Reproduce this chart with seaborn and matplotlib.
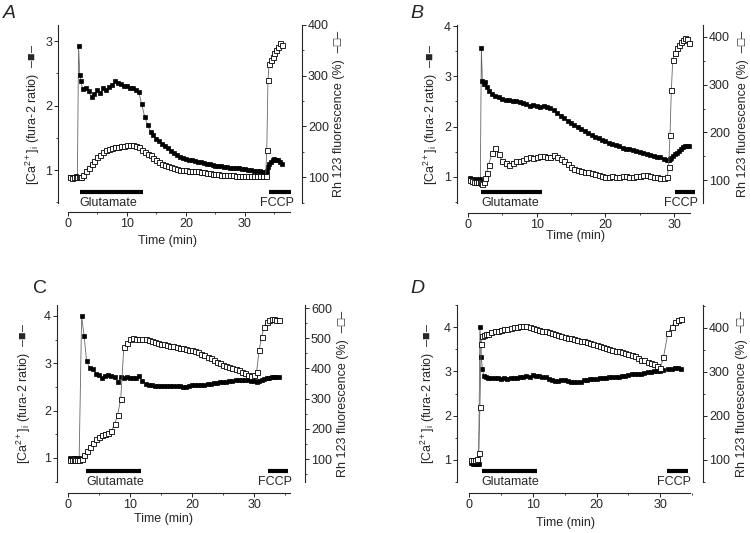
import numpy as np
import pandas as pd
import matplotlib
matplotlib.use("Agg")
import matplotlib.pyplot as plt
import matplotlib.transforms as mtransforms
from matplotlib.ticker import AutoMinorLocator
import seaborn as sns

sns.set_style("ticks")
plt.rcParams['font.family'] = ['Liberation Sans', 'DejaVu Sans']
plt.rcParams['mathtext.fontset'] = 'custom'
plt.rcParams['mathtext.rm'] = 'Liberation Sans'
plt.rcParams['mathtext.it'] = 'Liberation Sans:italic'

# ---------------- data (time in min, Ca = fura-2 ratio, Rh = % fluorescence) ----------------
# panel A
t_a = np.r_[[0.4, 0.7, 1.0, 1.3, 1.6, 1.8, 2.0, 2.2],
            np.arange(2.5, 33.6, 0.5),
            [33.7, 33.9, 34.1, 34.4, 34.7, 35.0, 35.3, 35.6, 35.9, 36.2]]
ca_a = [0.90, 0.89, 0.90, 0.91, 0.90, 2.92, 2.48, 2.38,
        2.25, 2.28, 2.22, 2.13, 2.18, 2.24, 2.20, 2.27, 2.24, 2.29,
        2.32, 2.38, 2.35, 2.34, 2.30, 2.30, 2.27, 2.27, 2.24, 2.21,
        2.02, 1.83, 1.70, 1.59, 1.54, 1.49, 1.45, 1.41, 1.37, 1.34,
        1.30, 1.26, 1.23, 1.21, 1.19, 1.17, 1.16, 1.15, 1.14, 1.13,
        1.12, 1.11, 1.10, 1.09, 1.08, 1.07, 1.07, 1.06, 1.05, 1.05,
        1.04, 1.04, 1.03, 1.03, 1.02, 1.01, 1.00, 1.00, 0.99, 0.98,
        0.98, 0.97, 0.97,
        0.99, 1.05, 1.10, 1.13, 1.15, 1.17, 1.16, 1.15, 1.13, 1.10]
rh_a = [100, 99, 100, 101, 100, 100, 100, 101,
        104, 113, 119, 126, 132, 139, 144, 149, 153, 156,
        158, 159, 160, 161, 162, 163, 163, 163, 162, 159,
        154, 149, 146, 143, 138, 133, 129, 126, 124, 122,
        120, 118, 116, 115, 114, 114, 113, 113, 112, 112,
        111, 110, 109, 108, 107, 106, 106, 105, 105, 104,
        104, 104, 103, 103, 103, 103, 102, 102, 102, 102,
        102, 102, 102,
        153, 291, 324, 331, 337, 344, 350, 356, 364, 360]

# panel B
t_b = np.r_[[0.3, 0.6, 0.9, 1.2, 1.5, 1.8, 1.95, 2.1, 2.3, 2.5, 2.7],
            np.arange(3.0, 29.1, 0.5),
            [29.2, 29.4, 29.6, 29.8, 30.1, 30.4, 30.7, 31.0, 31.3, 31.6, 31.9, 32.2]]
ca_b = [0.97, 0.95, 0.94, 0.95, 0.93, 0.95, 3.57, 2.90, 2.85, 2.88, 2.78,
        2.70, 2.65, 2.60, 2.58, 2.55, 2.52, 2.53, 2.50, 2.51, 2.48,
        2.47, 2.44, 2.41, 2.43, 2.40, 2.38, 2.40, 2.39, 2.37, 2.33,
        2.28, 2.22, 2.17, 2.12, 2.07, 2.03, 1.99, 1.95, 1.91, 1.87,
        1.84, 1.80, 1.77, 1.74, 1.71, 1.68, 1.66, 1.63, 1.61, 1.58,
        1.56, 1.55, 1.53, 1.51, 1.50, 1.48, 1.46, 1.44, 1.42, 1.40,
        1.39, 1.36, 1.34,
        1.33, 1.36, 1.38, 1.41, 1.45, 1.48, 1.52, 1.55, 1.59, 1.61, 1.62, 1.61]
rh_b = [100, 98, 96, 97, 95, 96, 93, 92, 96, 104, 114,
        132, 156, 167, 155, 139, 135, 132, 135, 139, 141,
        143, 146, 148, 147, 148, 150, 150, 148, 149, 153,
        149, 144, 139, 133, 128, 124, 121, 119, 118, 116,
        114, 112, 111, 109, 107, 106, 108, 106, 107, 108,
        108, 106, 107, 108, 108, 110, 111, 109, 107, 106,
        105, 104, 106,
        128, 195, 289, 352, 366, 377, 383, 389, 394, 398, 396, 387]

# panel C
t_c = np.r_[[0.3, 0.6, 0.9, 1.2, 1.5, 1.8, 2.2, 2.6],
            np.arange(3.0, 29.6, 0.5),
            [30.0, 30.4, 30.8, 31.2, 31.6, 32.0, 32.4, 32.8, 33.2, 33.6, 34.0]]
ca_c = [1.00, 0.98, 0.99, 1.00, 0.98, 1.00, 3.99, 3.58,
        3.04, 2.90, 2.88, 2.78, 2.75, 2.69, 2.74, 2.75, 2.73, 2.71,
        2.60, 2.71, 2.69, 2.70, 2.69, 2.68, 2.68, 2.72, 2.62, 2.57,
        2.54, 2.53, 2.52, 2.51, 2.51, 2.51, 2.51, 2.52, 2.52, 2.51,
        2.51, 2.50, 2.49, 2.52, 2.53, 2.54, 2.54, 2.54, 2.55, 2.56,
        2.57, 2.58, 2.59, 2.60, 2.61, 2.61, 2.62, 2.63, 2.64, 2.64,
        2.64, 2.65, 2.64, 2.63,
        2.62, 2.60, 2.63, 2.64, 2.66, 2.68, 2.69, 2.70, 2.71, 2.71, 2.71]
rh_c = [98, 98, 99, 97, 98, 98, 100, 112,
        126, 140, 153, 165, 172, 179, 182, 186, 193, 215,
        246, 299, 471, 484, 496, 501, 499, 498, 499, 497,
        495, 491, 488, 485, 482, 480, 477, 476, 475, 472,
        469, 467, 464, 462, 460, 457, 453, 449, 444, 439,
        433, 428, 422, 418, 413, 409, 405, 402, 398, 394,
        389, 384, 378, 376,
        378, 389, 460, 504, 537, 555, 560, 563, 563, 562, 560]

# panel D
t_d = np.r_[[0.3, 0.6, 0.9, 1.2, 1.5, 1.7, 1.9, 2.1, 2.3, 2.6],
            np.arange(3.0, 30.1, 0.5),
            [30.5, 31.2, 31.8, 32.3, 32.8, 33.3]]
ca_d = [0.93, 0.90, 0.90, 0.91, 0.90, 4.00, 3.32, 3.05, 2.90, 2.87,
        2.85, 2.86, 2.85, 2.84, 2.83, 2.84, 2.83, 2.84, 2.85, 2.86,
        2.87, 2.88, 2.89, 2.88, 2.91, 2.90, 2.89, 2.88, 2.87, 2.83,
        2.80, 2.79, 2.78, 2.80, 2.80, 2.78, 2.76, 2.75, 2.75, 2.77,
        2.80, 2.81, 2.82, 2.83, 2.83, 2.84, 2.85, 2.86, 2.87, 2.87,
        2.87, 2.88, 2.90, 2.90, 2.91, 2.93, 2.95, 2.94, 2.95, 2.97,
        2.98, 2.99, 3.00, 3.01, 3.02,
        3.03, 3.05, 3.05, 3.07, 3.08, 3.06]
rh_d = [100, 101, 100, 102, 115, 221, 364, 381, 385, 387,
        387, 390, 392, 394, 396, 397, 398, 400, 402, 403,
        404, 404, 404, 402, 400, 398, 396, 394, 392, 390,
        389, 386, 383, 381, 379, 377, 376, 375, 373, 371,
        370, 368, 366, 364, 362, 360, 357, 355, 353, 350,
        348, 347, 345, 343, 341, 339, 336, 332, 328, 326,
        323, 320, 317, 313, 309,
        333, 389, 403, 414, 418, 421]

# drug application periods (min)
glu_times = {'A': [2.0, 12.7], 'B': [1.9, 10.8], 'C': [2.9, 11.7], 'D': [2.0, 10.7]}
fccp_times = {'A': [34.1, 37.8], 'B': [30.2, 33.0], 'C': [32.3, 35.5], 'D': [31.0, 34.4]}

# ---------------- layout ----------------
panels = {
    'A': dict(t=t_a, ca=ca_a, rh=rh_a, pos=[0.0773, 0.6191, 0.3253, 0.334],
              xlim=(-1.69, 39.66), xend=37.6, ylim=(0.49, 3.25), yticks=[1, 2, 3],
              rlim=(49, 400), rticks=[100, 200, 300, 400], off=6.5,
              lx=-0.066, rx=1.127, xl=(0.45, -0.18), letter=(0.004, 0.99), italic=True),
    'B': dict(t=t_b, ca=ca_b, rh=rh_b, pos=[0.6093, 0.6191, 0.328, 0.334],
              xlim=(-1.6, 34.2), xend=32.3, ylim=(0.48, 4.02), yticks=[1, 2, 3, 4],
              rlim=(52, 425), rticks=[100, 200, 300, 400], off=7.2,
              lx=-0.069, rx=1.14, xl=(0.48, -0.15), letter=(0.547, 0.99), italic=True),
    'C': dict(t=t_c, ca=ca_c, rh=rh_c, pos=[0.076, 0.0957, 0.3307, 0.332],
              xlim=(-1.77, 38.2), xend=35.8, ylim=(0.49, 4.23), yticks=[1, 2, 3, 4],
              rlim=(24, 610), rticks=[100, 200, 300, 400, 500, 600], off=8,
              lx=-0.097, rx=1.13, xl=(0.43, -0.175), letter=(0.044, 0.475), italic=False),
    'D': dict(t=t_d, ca=ca_d, rh=rh_d, pos=[0.6093, 0.0957, 0.328, 0.332],
              xlim=(-1.9, 36.7), xend=34.7, ylim=(0.5, 4.5), yticks=[1, 2, 3, 4],
              rlim=(50, 452), rticks=[100, 200, 300, 400], off=8,
              lx=-0.081, rx=1.135, xl=(0.44, -0.198), letter=(0.547, 0.475), italic=True),
}

fs = 9
fig = plt.figure(figsize=(7.5, 5.33), dpi=100)

for name, p in panels.items():
    ax = fig.add_axes(p['pos'])
    df = pd.DataFrame({'t': p['t'], 'ca': p['ca'], 'rh': p['rh']})

    sns.lineplot(data=df, x='t', y='ca', ax=ax, color='0.4', linewidth=0.6,
                 marker='s', markersize=3.4, markerfacecolor='black',
                 markeredgecolor='black', markeredgewidth=0.5,
                 estimator=None, sort=False)
    ax2 = ax.twinx()
    sns.lineplot(data=df, x='t', y='rh', ax=ax2, color='0.4', linewidth=0.6,
                 marker='s', markersize=3.6, markerfacecolor='white',
                 markeredgecolor='black', markeredgewidth=0.6,
                 estimator=None, sort=False)

    ax.set_xlim(*p['xlim'])
    ax.set_ylim(*p['ylim'])
    ax2.set_ylim(*p['rlim'])
    ax.set_xticks([0, 10, 20, 30])
    ax.set_yticks(p['yticks'])
    ax2.set_yticks(p['rticks'])
    for a in (ax, ax2):
        a.xaxis.set_minor_locator(AutoMinorLocator(2))
        a.yaxis.set_minor_locator(AutoMinorLocator(2))
        a.tick_params(which='major', direction='out', length=2.8, width=0.7,
                      labelsize=fs, pad=1.5)
        a.tick_params(which='minor', direction='out', length=1.6, width=0.6)
        for s in a.spines.values():
            s.set_linewidth(0.8)

    ax.spines['top'].set_visible(False)
    ax.spines['right'].set_visible(False)
    ax.spines['bottom'].set_position(('outward', p['off']))
    ax.spines['bottom'].set_bounds(0, p['xend'])
    for s in ('top', 'left', 'bottom'):
        ax2.spines[s].set_visible(False)

    ax.set_xlabel('Time (min)', fontsize=fs)
    ax.xaxis.set_label_coords(*p['xl'])
    ax.set_ylabel(r'[Ca$^{\mathrm{2+}}$]$_{\mathrm{i}}$ (fura-2 ratio)  –■–', fontsize=fs)
    ax.yaxis.set_label_coords(p['lx'], 0.5)
    ax2.set_ylabel('Rh 123 fluorescence (%)  –□–', fontsize=fs)
    ax2.yaxis.set_label_coords(p['rx'], 0.5)

    # application bars
    trans = mtransforms.blended_transform_factory(ax.transData, ax.transAxes)
    g0, g1 = glu_times[name]
    f0, f1 = fccp_times[name]
    ax.plot([g0, g1], [0.062, 0.062], transform=trans, color='black', lw=3,
            solid_capstyle='butt', clip_on=False)
    ax.plot([f0, f1], [0.062, 0.062], transform=trans, color='black', lw=3,
            solid_capstyle='butt', clip_on=False)
    ax.text(g0, 0.035, 'Glutamate', transform=trans, ha='left', va='top', fontsize=fs)
    ax.text((f0 + f1) / 2 - 0.6, 0.035, 'FCCP', transform=trans, ha='center', va='top',
            fontsize=fs)

    fig.text(p['letter'][0], p['letter'][1], name, fontsize=14, va='top', ha='left',
             style='italic' if p['italic'] else 'normal')

fig.savefig('out.png', dpi=100)
